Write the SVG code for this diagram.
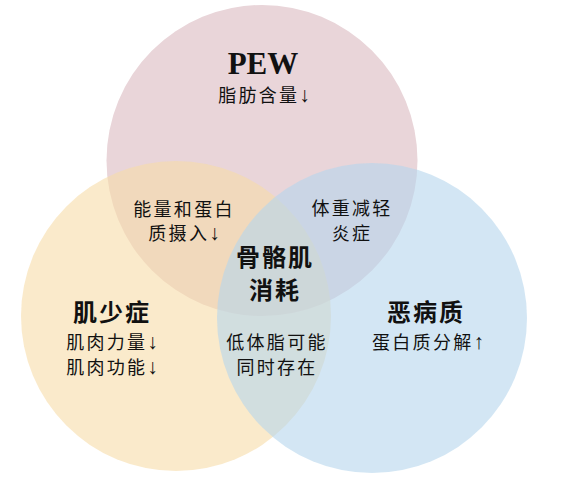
<svg xmlns="http://www.w3.org/2000/svg" width="572" height="480" viewBox="0 0 572 480">
<style>
text{font-family:"Noto Sans CJK SC","Noto Sans",sans-serif;fill:#111;text-anchor:middle}
.n{font-size:18px;letter-spacing:2.3px}
.b{font-size:24px;font-weight:700;letter-spacing:2px}
.t{font-family:"Liberation Serif",serif;font-size:31px;font-weight:700}
.ar{font-family:"Liberation Serif",serif;font-size:21px;letter-spacing:0;fill:#111}
</style>
<rect width="572" height="480" fill="#ffffff"/>
<g id="pew">
<circle cx="262" cy="160.5" r="155.5" fill="#E9D5D9"/>
<text class="t" x="263" y="74">PEW</text>
<text class="n" x="264" y="102">脂肪含量<tspan class="ar">↓</tspan></text>
</g>
<g id="sarcopenia">
<circle cx="176" cy="316" r="155" fill="#F7DCA8" fill-opacity="0.6"/>
<text class="b" x="112" y="321">肌少症</text>
<text class="n" x="112" y="349">肌肉力量<tspan class="ar">↓</tspan></text>
<text class="n" x="112" y="374">肌肉功能<tspan class="ar">↓</tspan></text>
</g>
<g id="cachexia">
<circle cx="372" cy="318" r="155" fill="#B6D5ED" fill-opacity="0.6"/>
<text class="b" x="426" y="321">恶病质</text>
<text class="n" x="428" y="349">蛋白质分解<tspan class="ar">↑</tspan></text>
</g>
<g id="overlap-pew-sarcopenia">
<text class="n" x="184" y="216">能量和蛋白</text>
<text class="n" x="184" y="240">质摄入<tspan class="ar">↓</tspan></text>
</g>
<g id="overlap-pew-cachexia">
<text class="n" x="352" y="215">体重减轻</text>
<text class="n" x="352" y="240">炎症</text>
</g>
<g id="overlap-sarcopenia-cachexia">
<text class="n" x="277" y="349">低体脂可能</text>
<text class="n" x="277" y="374">同时存在</text>
</g>
<g id="center">
<text class="b" x="275" y="266">骨骼肌</text>
<text class="b" x="275" y="299">消耗</text>
</g>
<g id="connectors"></g>
</svg>
